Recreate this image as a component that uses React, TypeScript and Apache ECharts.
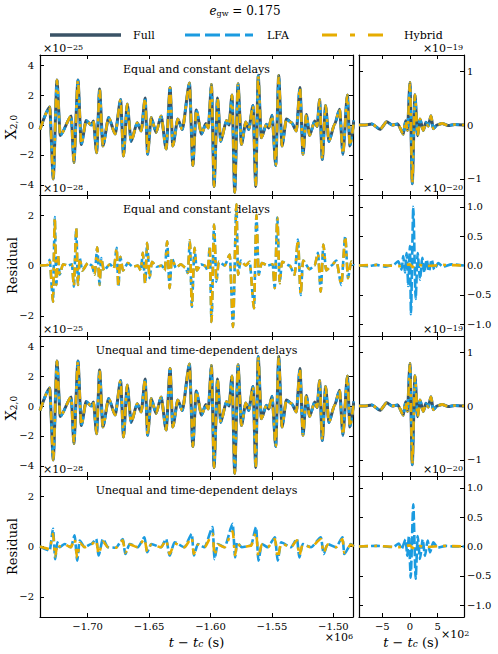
import React, { useEffect, useRef } from "react";
import * as echarts from "echarts";

const FONT = "DejaVu Serif";
const C_FULL = "#3a5366";
const C_LFA = "#1b9be0";
const C_HYB = "#e6ac00";

const legendNames = ["Full", "LFA", "Hybrid"];
const panelTitles = [
  "Equal and constant delays",
  "Equal and constant delays",
  "Unequal and time-dependent delays",
  "Unequal and time-dependent delays",
];
const yNames = ["X", "Residual", "X", "Residual"];
const leftOffsets = ["\u221225", "\u221228", "\u221225", "\u221228"];
const rightOffsets = ["\u221219", "\u221220", "\u221219", "\u221220"];

const leftXTicks = [-1.7, -1.65, -1.6, -1.55, -1.5];
const rightXTicks = [-5, 0, 5];
const waveYTicks = [-4, -2, 0, 2, 4];
const resYTicks = [-2, 0, 2];
const rightWaveYTicks = [-1, 0, 1];
const rightResYTicks = [-1, -0.5, 0, 0.5, 1];

// X_{2,0} waveform (x 1e-25), time in 1e6 s — read extrema from the picture
const waveFull: [number, number][] = [
  [-1.7388, -0.3], [-1.7309, 1.2], [-1.728, -3.6], [-1.725, 3.0], [-1.7223, -0.7],
  [-1.7134, 0.6], [-1.7112, -2.5], [-1.7079, 3.0], [-1.7052, -1.3], [-1.7012, 0.3],
  [-1.6971, 0.0], [-1.6953, 0.27], [-1.6927, -1.85], [-1.6903, 2.4], [-1.6876, -1.4],
  [-1.6829, 0.5], [-1.6776, -0.6], [-1.6732, 1.7], [-1.6708, -2.07], [-1.6678, 1.4],
  [-1.6646, -1.1], [-1.6597, 0.15], [-1.6564, -0.4], [-1.6532, 1.8], [-1.6512, -1.95],
  [-1.6483, 0.5], [-1.6443, -0.5], [-1.6402, 0.6], [-1.6361, -1.6], [-1.6329, 2.5],
  [-1.6307, -1.4], [-1.6266, 0.4], [-1.623, -0.3], [-1.6171, 2.8], [-1.6144, -2.7],
  [-1.6116, 1.0], [-1.6073, -0.6], [-1.6038, 0.1], [-1.6018, -0.2], [-1.5992, 2.7],
  [-1.5971, -4.1], [-1.5943, 1.8], [-1.5917, -1.1], [-1.587, 0.3], [-1.5849, 0.0],
  [-1.5825, 2.0], [-1.5803, -4.5], [-1.5776, 2.75], [-1.5748, -1.3], [-1.5713, 0.2],
  [-1.5689, -0.3], [-1.5654, 1.3], [-1.5632, -4.1], [-1.5612, 3.3], [-1.5586, -0.85],
  [-1.5545, 0.05], [-1.5526, -0.2], [-1.5499, 0.65], [-1.5469, -2.7], [-1.5445, 3.3],
  [-1.5418, -1.4], [-1.5382, 0.4], [-1.5339, 0.15], [-1.5301, -0.4], [-1.5272, 2.5],
  [-1.5247, -1.95], [-1.522, 0.7], [-1.5193, -0.7], [-1.5152, 0.27], [-1.5132, -0.1],
  [-1.5112, 1.7], [-1.509, -2.3], [-1.5063, 1.3], [-1.5036, -1.1], [-1.499, 0.05],
  [-1.4949, 1.05], [-1.4922, -1.95], [-1.4886, 2.0], [-1.4865, -1.4], [-1.4833, 0.3],
];

// Residual, equal & constant delays (x 1e-28)
const resEqual: [number, number][] = [
  [-1.7388, 0], [-1.7323, 0.02], [-1.7309, 0.23], [-1.7282, -1.44], [-1.7268, 1.92],
  [-1.7255, -0.77], [-1.7242, 0.43], [-1.7228, -0.37], [-1.7201, 0.05], [-1.716, 0.0],
  [-1.7128, 0.05], [-1.7112, -0.84], [-1.7093, 1.47], [-1.7079, -0.77], [-1.7065, 0.3],
  [-1.7044, -0.2], [-1.6998, 0.1], [-1.6965, 0.0], [-1.6943, -0.37], [-1.6922, 0.72],
  [-1.6903, -0.77], [-1.689, 0.3], [-1.6868, -0.2], [-1.6819, 0.05], [-1.6786, -0.1],
  [-1.6764, 0.7], [-1.675, -0.84], [-1.6734, 0.35], [-1.6713, -0.2], [-1.6673, 0.1],
  [-1.6632, -0.05], [-1.6591, 0.0], [-1.6567, -0.2], [-1.6551, 0.5], [-1.6532, -0.7],
  [-1.6516, 0.9], [-1.6496, -0.5], [-1.6477, 0.15], [-1.6437, -0.05], [-1.6396, 0.0],
  [-1.6372, -0.2], [-1.6353, 0.96], [-1.6333, -0.9], [-1.6315, 0.3], [-1.6282, -0.1],
  [-1.6242, 0.05], [-1.6201, -0.1], [-1.6185, -0.3], [-1.6168, 1.0], [-1.6152, -1.64],
  [-1.613, 0.7], [-1.6112, -0.2], [-1.6079, 0.05], [-1.6047, 0.0], [-1.6022, -0.2],
  [-1.6006, 0.76], [-1.5992, -2.24], [-1.5971, 1.63], [-1.5952, -0.64], [-1.5933, 0.15],
  [-1.5884, 0.0], [-1.5843, 0.43], [-1.5817, -2.44], [-1.5789, 2.43], [-1.5776, -0.37],
  [-1.5754, 0.2], [-1.5713, 0.0], [-1.5681, 0.15], [-1.5646, -1.7], [-1.5626, 2.0],
  [-1.5608, -0.37], [-1.5583, 0.1], [-1.5534, 0.0], [-1.5494, 0.05], [-1.5477, -0.9],
  [-1.5456, 1.9], [-1.5437, -0.7], [-1.5418, 0.15], [-1.5356, 0.0], [-1.5315, -0.37],
  [-1.5288, 1.03], [-1.5266, -1.17], [-1.5247, 0.2], [-1.5193, -0.15], [-1.5152, 0.0],
  [-1.5125, 0.5], [-1.5103, -1.04], [-1.5081, 0.83], [-1.5059, -0.2], [-1.5014, 0.0],
  [-1.4976, 0.2], [-1.4935, -0.77], [-1.4903, 1.16], [-1.4881, -0.5], [-1.4854, 0.16],
  [-1.4835, 0],
];

// Residual, unequal & time-dependent delays (x 1e-28)
const resUnequalLFA: [number, number][] = [
  [-1.7388, 0], [-1.7309, -0.16], [-1.7282, 0.7], [-1.7264, -0.5], [-1.7247, 0.17],
  [-1.7228, -0.03], [-1.7187, 0.1], [-1.7136, -0.03], [-1.7106, 0.44], [-1.7085, -0.56],
  [-1.7065, 0.24], [-1.7025, -0.03], [-1.6971, 0.1], [-1.693, 0.3], [-1.6911, -0.36],
  [-1.6876, 0.3], [-1.6835, -0.03], [-1.677, -0.05], [-1.6713, 0.3], [-1.6694, -0.3],
  [-1.6659, 0.1], [-1.6591, -0.03], [-1.6537, 0.37], [-1.6516, -0.23], [-1.6483, 0.1],
  [-1.6402, -0.03], [-1.6361, 0.3], [-1.6333, -0.36], [-1.6293, 0.17], [-1.6212, -0.03],
  [-1.6152, 0.5], [-1.6136, -0.36], [-1.6103, 0.1], [-1.6049, -0.03], [-1.5982, 0.77],
  [-1.5968, -0.5], [-1.5941, 0.1], [-1.5886, -0.03], [-1.5819, 0.9], [-1.58, -0.43],
  [-1.5784, 0.17], [-1.5746, -0.03], [-1.567, 0.04], [-1.5629, 0.77], [-1.561, -0.56],
  [-1.5583, 0.1], [-1.5534, -0.03], [-1.5475, 0.37], [-1.5453, -0.56], [-1.5426, 0.17],
  [-1.5345, -0.03], [-1.5296, 0.3], [-1.5277, -0.43], [-1.525, 0.1], [-1.5182, -0.03],
  [-1.5101, 0.37], [-1.5079, -0.3], [-1.5047, 0.1], [-1.4979, -0.03], [-1.4925, 0.37],
  [-1.4911, -0.3], [-1.4857, 0.1], [-1.4835, 0],
];
const resUnequalHyb: [number, number][] = [
  [-1.7388, 0], [-1.7309, -0.1], [-1.7282, 0.5], [-1.7264, -0.4], [-1.7247, 0.1],
  [-1.7228, 0.0], [-1.7187, 0.08], [-1.7136, -0.03], [-1.7106, 0.3], [-1.7085, -0.45],
  [-1.7065, 0.15], [-1.7025, -0.03], [-1.6971, 0.08], [-1.693, 0.25], [-1.6911, -0.3],
  [-1.6876, 0.2], [-1.6835, -0.03], [-1.677, -0.05], [-1.6713, 0.25], [-1.6694, -0.25],
  [-1.6659, 0.08], [-1.6591, -0.03], [-1.6537, 0.3], [-1.6516, -0.2], [-1.6483, 0.08],
  [-1.6402, -0.03], [-1.6361, 0.25], [-1.6333, -0.3], [-1.6293, 0.12], [-1.6212, -0.03],
  [-1.6152, 0.35], [-1.6136, -0.3], [-1.6103, 0.08], [-1.6049, -0.03], [-1.5982, 0.5],
  [-1.5968, -0.35], [-1.5941, 0.08], [-1.5886, -0.03], [-1.5819, 0.6], [-1.58, -0.35],
  [-1.5784, 0.12], [-1.5746, -0.03], [-1.567, 0.03], [-1.5629, 0.55], [-1.561, -0.4],
  [-1.5583, 0.08], [-1.5534, -0.03], [-1.5475, 0.3], [-1.5453, -0.45], [-1.5426, 0.12],
  [-1.5345, -0.03], [-1.5296, 0.25], [-1.5277, -0.35], [-1.525, 0.08], [-1.5182, -0.03],
  [-1.5101, 0.3], [-1.5079, -0.25], [-1.5047, 0.08], [-1.4979, -0.03], [-1.4925, 0.3],
  [-1.4911, -0.25], [-1.4857, 0.08], [-1.4835, 0],
];

// Merger zoom: time in 1e2 s, waveform x 1e-19
const rightWave: [number, number][] = [
  [-9.2, 0], [-8.1, 0.0], [-6.9, 0.02], [-5.4, -0.08], [-4.2, 0.06], [-3.2, 0.0],
  [-2.2, 0.02], [-1.2, -0.17], [-0.78, 0.08], [-0.45, -0.1], [0.0, 0.79], [0.42, -1.09],
  [0.9, 0.56], [1.39, -0.2], [1.81, 0.11], [2.41, -0.1], [2.89, 0.05], [3.3, -0.02],
  [3.8, 0.17], [4.21, -0.07], [4.9, 0.0], [5.8, 0.03], [6.9, -0.01], [8.1, 0.01], [9.76, 0],
];
// Residuals near merger (x 1e-20)
const rightResEqualLFA: [number, number][] = [
  [-9.2, 0], [-7.5, -0.01], [-6.0, 0.01], [-4.5, -0.02], [-3.0, 0.01], [-2.1, 0.07],
  [-1.5, -0.07], [-1.21, 0.16], [-0.9, -0.12], [-0.6, 0.21], [-0.3, -0.35], [0.0, 0.33],
  [0.18, -0.83], [0.6, 1.0], [1.03, -0.57], [1.39, 0.21], [1.81, -0.24], [2.22, 0.13],
  [2.59, -0.12], [3.02, 0.1], [3.44, -0.1], [3.92, 0.1], [4.39, -0.07], [5.1, 0.04],
  [6.0, -0.02], [7.5, 0.02], [9.76, 0],
];
const rightResUnequalLFA: [number, number][] = [
  [-9.2, 0], [-6.0, 0.01], [-3.0, -0.01], [-2.0, 0.05], [-1.5, -0.04], [-0.78, 0.12],
  [-0.48, -0.16], [-0.18, 0.18], [0.13, -0.53], [0.6, 0.72], [1.03, -0.55], [1.39, 0.18],
  [1.81, -0.21], [2.3, 0.12], [2.71, -0.16], [3.2, 0.1], [3.62, -0.1], [4.21, 0.07],
  [5.0, -0.02], [6.5, 0.01], [8.0, 0.0], [9.76, 0],
];
const rightResHyb: [number, number][] = [
  [-9.2, 0], [-6.0, 0.01], [-2.0, -0.01], [0.0, 0.02], [0.5, -0.03], [1.0, 0.02],
  [3.0, -0.01], [6.0, 0.01], [9.76, 0],
];

const LEFT_X = [-1.7388, -1.484];
const RIGHT_X = [-9.2, 9.76];

const minus = (s: string) => s.replace("-", "\u2212");

function App() {
  const ref = useRef<HTMLDivElement>(null);
  useEffect(() => {
    if (!ref.current) return;
    const chart = echarts.init(ref.current, null, { renderer: "svg" });
    const rowTops = [55, 195, 336, 476];
    const rowH = [140, 141, 140, 141];
    const grids: any[] = [];
    const xAxis: any[] = [];
    const yAxis: any[] = [];
    const series: any[] = [];
    const axLine = { show: true, onZero: false, lineStyle: { color: "#000", width: 1.2 } };
    const lbl = { fontFamily: FONT, fontSize: 10, color: "#000" };

    const panels = [
      { yr: 4.67, yt: waveYTicks, ryr: 1.3, ryt: rightWaveYTicks, rfmt: (v: number) => minus(String(Math.round(v))) },
      { yr: 2.8, yt: resYTicks, ryr: 1.2, ryt: rightResYTicks, rfmt: (v: number) => minus(v.toFixed(1)) },
      { yr: 4.67, yt: waveYTicks, ryr: 1.3, ryt: rightWaveYTicks, rfmt: (v: number) => minus(String(Math.round(v))) },
      { yr: 2.8, yt: resYTicks, ryr: 1.2, ryt: rightResYTicks, rfmt: (v: number) => minus(v.toFixed(1)) },
    ];

    const addAxes = (g: number, xr: number[], xt: number[], xfmt: any, showX: boolean, yr: number, yt: number[], yfmt: any, ySide: "left" | "right") => {
      const tick = (vals: number[]) => ({ show: true, inside: true, length: 4, customValues: vals, lineStyle: { color: "#000", width: 1 } });
      const xb = { type: "value", gridIndex: g, min: xr[0], max: xr[1], splitLine: { show: false }, axisLine: axLine, axisTick: tick(xt) };
      xAxis.push({ ...xb, position: "bottom", axisLabel: { show: showX, customValues: xt, formatter: xfmt, margin: 4, ...lbl } });
      xAxis.push({ ...xb, position: "top", axisLabel: { show: false } });
      const yb = { type: "value", gridIndex: g, min: -yr, max: yr, splitLine: { show: false }, axisLine: axLine, axisTick: tick(yt) };
      yAxis.push({ ...yb, position: "left", axisLabel: { show: ySide === "left", customValues: yt, formatter: yfmt, margin: 6, ...lbl } });
      yAxis.push({ ...yb, position: "right", axisLabel: { show: ySide === "right", customValues: yt, formatter: yfmt, margin: 3, ...lbl } });
    };

    const addLine = (g: number, data: [number, number][], color: string, width: number, type: any, z: number) => {
      series.push({
        type: "line", xAxisIndex: 2 * g, yAxisIndex: 2 * g, data, showSymbol: false, symbol: "none",
        smooth: 0.22, smoothMonotone: "x", silent: true, z,
        lineStyle: { color, width, type, cap: "butt", join: "round" },
      });
    };
    const DASH_LFA = [9, 3];
    const DASH_HYB = [9, 6, 3, 6];
    const W = 2.6;

    for (let r = 0; r < 4; r++) {
      const p = panels[r];
      const gl = r * 2, gr = r * 2 + 1;
      grids.push({ left: 40, top: rowTops[r], width: 313, height: rowH[r], outerBoundsMode: "none" });
      grids.push({ left: 359, top: rowTops[r], width: 105, height: rowH[r], outerBoundsMode: "none" });
      addAxes(gl, LEFT_X, leftXTicks, (v: number) => minus(v.toFixed(2)), r === 3, p.yr, p.yt, (v: number) => minus(String(v)), "left");
      addAxes(gr, RIGHT_X, rightXTicks, (v: number) => minus(String(v)), r === 3, p.ryr, p.ryt, p.rfmt, "right");
      if (r === 0 || r === 2) {
        addLine(gl, waveFull, C_FULL, W + 0.4, "solid", 2);
        addLine(gl, waveFull, C_LFA, W, DASH_LFA, 3);
        addLine(gl, waveFull, C_HYB, W, DASH_HYB, 4);
        addLine(gr, rightWave, C_FULL, W + 0.4, "solid", 2);
        addLine(gr, rightWave, C_LFA, W, DASH_LFA, 3);
        addLine(gr, rightWave, C_HYB, W, DASH_HYB, 4);
      } else if (r === 1) {
        addLine(gl, resEqual, C_LFA, W, DASH_LFA, 3);
        addLine(gl, resEqual, C_HYB, W, DASH_HYB, 4);
        addLine(gr, rightResEqualLFA, C_LFA, W, DASH_LFA, 3);
        addLine(gr, rightResHyb, C_HYB, W, DASH_HYB, 4);
      } else {
        addLine(gl, resUnequalLFA, C_LFA, W, DASH_LFA, 3);
        addLine(gl, resUnequalHyb, C_HYB, W, DASH_HYB, 4);
        addLine(gr, rightResUnequalLFA, C_LFA, W, DASH_LFA, 3);
        addLine(gr, rightResHyb, C_HYB, W, DASH_HYB, 4);
      }
    }

    const txt = (x: number, y: number, text: string, size: number, align = "center", valign = "middle") => ({
      type: "text", x, y, silent: true,
      style: { text, fontSize: size, fontFamily: FONT, fill: "#000", textAlign: align, textVerticalAlign: valign, align, verticalAlign: valign },
    });
    const supRich = {
      rich: { a: { fontSize: 11, fontFamily: FONT, fill: "#000" }, b: { fontSize: 8, fontFamily: FONT, fill: "#000", verticalAlign: "top" } },
    };

    const graphic: any[] = [];
    graphic.push({
      type: "text", x: 245, y: 11, silent: true,
      style: {
        text: "{i|e}{s|gw}{n| = 0.175}", textAlign: "center", textVerticalAlign: "middle", align: "center", verticalAlign: "middle",
        rich: {
          i: { fontSize: 12, fontFamily: FONT, fontStyle: "italic", fill: "#000" },
          s: { fontSize: 8, fontFamily: FONT, fill: "#000", verticalAlign: "bottom" },
          n: { fontSize: 12, fontFamily: FONT, fill: "#000" },
        },
      },
    });
    const legColors = [C_FULL, C_LFA, C_HYB];
    const legDash: any[] = [null, [15, 5], [15, 13, 5, 13]];
    const legX = [[50, 121, 133], [185, 253, 267], [322, 387, 404]];
    for (let i = 0; i < 3; i++) {
      graphic.push({
        type: "line", silent: true,
        shape: { x1: legX[i][0], y1: 35, x2: legX[i][1], y2: 35 },
        style: { stroke: legColors[i], lineWidth: i === 0 ? 3.5 : 3, lineDash: legDash[i], lineCap: "butt" },
      });
      graphic.push(txt(legX[i][2], 35, legendNames[i], 11, "left", "middle"));
    }
    for (let r = 0; r < 4; r++) {
      const top = rowTops[r];
      graphic.push(txt(196.5, top + 14, panelTitles[r], 11));
      if (yNames[r] === "X") {
        graphic.push({
          type: "text", x: 11, y: top + rowH[r] / 2 + 2, rotation: Math.PI / 2, silent: true,
          style: {
            text: "{a|X}{b|2,0}", textAlign: "center", textVerticalAlign: "middle", align: "center", verticalAlign: "middle",
            rich: { a: { fontSize: 14, fontFamily: FONT, fill: "#000" }, b: { fontSize: 9, fontFamily: FONT, fill: "#000", verticalAlign: "bottom" } },
          },
        });
      } else {
        graphic.push({ ...txt(12, top + rowH[r] / 2, "Residual", 13), rotation: Math.PI / 2 });
      }
      graphic.push({
        type: "text", x: 43, y: top - 1, silent: true,
        style: { text: "{a|\u00d710}{b|" + leftOffsets[r] + "}", textAlign: "left", textVerticalAlign: "bottom", align: "left", verticalAlign: "bottom", ...supRich },
      });
      graphic.push({
        type: "text", x: 463, y: top - 1, silent: true,
        style: { text: "{a|\u00d710}{b|" + rightOffsets[r] + "}", textAlign: "right", textVerticalAlign: "bottom", align: "right", verticalAlign: "bottom", ...supRich },
      });
    }
    const xNameRich = {
      i: { fontSize: 13, fontFamily: FONT, fontStyle: "italic", fill: "#000" },
      n: { fontSize: 13, fontFamily: FONT, fill: "#000" },
      s: { fontSize: 9, fontFamily: FONT, fontStyle: "italic", fill: "#000", verticalAlign: "bottom" },
    };
    graphic.push({
      type: "text", x: 196.5, y: 642, silent: true,
      style: { text: "{i|t}{n| \u2212 }{i|t}{s|c}{n| (s)}", textAlign: "center", textVerticalAlign: "middle", align: "center", verticalAlign: "middle", rich: xNameRich },
    });
    graphic.push({
      type: "text", x: 411, y: 642, silent: true,
      style: { text: "{i|t}{n| \u2212 }{i|t}{s|c}{n| (s)}", textAlign: "center", textVerticalAlign: "middle", align: "center", verticalAlign: "middle", rich: xNameRich },
    });
    graphic.push({
      type: "text", x: 353, y: 643, silent: true,
      style: { text: "{a|\u00d710}{b|6}", textAlign: "right", textVerticalAlign: "bottom", align: "right", verticalAlign: "bottom", ...supRich },
    });
    graphic.push({
      type: "text", x: 441, y: 640, silent: true,
      style: { text: "{a|\u00d710}{b|2}", textAlign: "left", textVerticalAlign: "bottom", align: "left", verticalAlign: "bottom", ...supRich },
    });

    chart.setOption({
      animation: false,
      backgroundColor: "#fff",
      grid: grids,
      xAxis,
      yAxis,
      series,
      graphic,
    });
    return () => chart.dispose();
  }, []);
  return <div ref={ref} style={{ position: "absolute", left: 0, top: 0, width: 498, height: 654 }} />;
}

export default App;
